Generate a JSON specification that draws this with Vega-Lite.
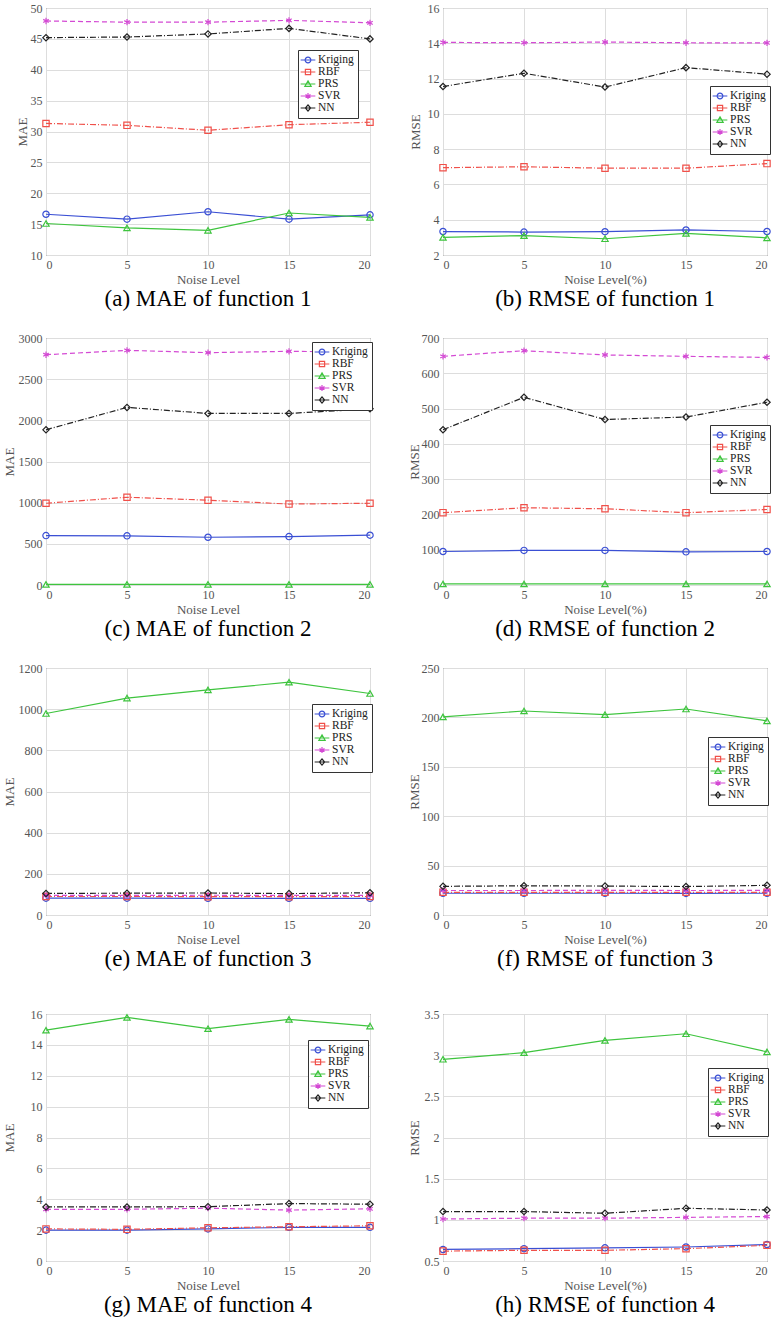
{
"$schema": "https://vega.github.io/schema/vega-lite/v6.json",
"background": "white",
"padding": {"left": 2, "top": 1, "right": 0, "bottom": 0},
"datasets": {"d": [
{"p":"a","model":"Kriging","noise":0,"v":16.6},{"p":"a","model":"Kriging","noise":5,"v":15.8},{"p":"a","model":"Kriging","noise":10,"v":17.0},{"p":"a","model":"Kriging","noise":15,"v":15.8},{"p":"a","model":"Kriging","noise":20,"v":16.5},
{"p":"a","model":"RBF","noise":0,"v":31.3},{"p":"a","model":"RBF","noise":5,"v":31.0},{"p":"a","model":"RBF","noise":10,"v":30.2},{"p":"a","model":"RBF","noise":15,"v":31.1},{"p":"a","model":"RBF","noise":20,"v":31.5},
{"p":"a","model":"PRS","noise":0,"v":15.1},{"p":"a","model":"PRS","noise":5,"v":14.4},{"p":"a","model":"PRS","noise":10,"v":14.0},{"p":"a","model":"PRS","noise":15,"v":16.8},{"p":"a","model":"PRS","noise":20,"v":16.1},
{"p":"a","model":"SVR","noise":0,"v":47.9},{"p":"a","model":"SVR","noise":5,"v":47.7},{"p":"a","model":"SVR","noise":10,"v":47.7},{"p":"a","model":"SVR","noise":15,"v":48.0},{"p":"a","model":"SVR","noise":20,"v":47.6},
{"p":"a","model":"NN","noise":0,"v":45.2},{"p":"a","model":"NN","noise":5,"v":45.3},{"p":"a","model":"NN","noise":10,"v":45.8},{"p":"a","model":"NN","noise":15,"v":46.7},{"p":"a","model":"NN","noise":20,"v":45.0},
{"p":"b","model":"Kriging","noise":0,"v":3.33},{"p":"b","model":"Kriging","noise":5,"v":3.3},{"p":"b","model":"Kriging","noise":10,"v":3.32},{"p":"b","model":"Kriging","noise":15,"v":3.42},{"p":"b","model":"Kriging","noise":20,"v":3.33},
{"p":"b","model":"RBF","noise":0,"v":6.95},{"p":"b","model":"RBF","noise":5,"v":7.0},{"p":"b","model":"RBF","noise":10,"v":6.92},{"p":"b","model":"RBF","noise":15,"v":6.92},{"p":"b","model":"RBF","noise":20,"v":7.18},
{"p":"b","model":"PRS","noise":0,"v":3.0},{"p":"b","model":"PRS","noise":5,"v":3.1},{"p":"b","model":"PRS","noise":10,"v":2.92},{"p":"b","model":"PRS","noise":15,"v":3.22},{"p":"b","model":"PRS","noise":20,"v":2.97},
{"p":"b","model":"SVR","noise":0,"v":14.05},{"p":"b","model":"SVR","noise":5,"v":14.03},{"p":"b","model":"SVR","noise":10,"v":14.07},{"p":"b","model":"SVR","noise":15,"v":14.03},{"p":"b","model":"SVR","noise":20,"v":14.02},
{"p":"b","model":"NN","noise":0,"v":11.55},{"p":"b","model":"NN","noise":5,"v":12.3},{"p":"b","model":"NN","noise":10,"v":11.52},{"p":"b","model":"NN","noise":15,"v":12.62},{"p":"b","model":"NN","noise":20,"v":12.25},
{"p":"c","model":"Kriging","noise":0,"v":600},{"p":"c","model":"Kriging","noise":5,"v":597},{"p":"c","model":"Kriging","noise":10,"v":580},{"p":"c","model":"Kriging","noise":15,"v":588},{"p":"c","model":"Kriging","noise":20,"v":605},
{"p":"c","model":"RBF","noise":0,"v":993},{"p":"c","model":"RBF","noise":5,"v":1066},{"p":"c","model":"RBF","noise":10,"v":1030},{"p":"c","model":"RBF","noise":15,"v":983},{"p":"c","model":"RBF","noise":20,"v":993},
{"p":"c","model":"PRS","noise":0,"v":8},{"p":"c","model":"PRS","noise":5,"v":8},{"p":"c","model":"PRS","noise":10,"v":8},{"p":"c","model":"PRS","noise":15,"v":8},{"p":"c","model":"PRS","noise":20,"v":8},
{"p":"c","model":"SVR","noise":0,"v":2797},{"p":"c","model":"SVR","noise":5,"v":2850},{"p":"c","model":"SVR","noise":10,"v":2822},{"p":"c","model":"SVR","noise":15,"v":2838},{"p":"c","model":"SVR","noise":20,"v":2830},
{"p":"c","model":"NN","noise":0,"v":1885},{"p":"c","model":"NN","noise":5,"v":2157},{"p":"c","model":"NN","noise":10,"v":2084},{"p":"c","model":"NN","noise":15,"v":2084},{"p":"c","model":"NN","noise":20,"v":2140},
{"p":"d","model":"Kriging","noise":0,"v":95},{"p":"d","model":"Kriging","noise":5,"v":98},{"p":"d","model":"Kriging","noise":10,"v":98},{"p":"d","model":"Kriging","noise":15,"v":94},{"p":"d","model":"Kriging","noise":20,"v":95},
{"p":"d","model":"RBF","noise":0,"v":205},{"p":"d","model":"RBF","noise":5,"v":219},{"p":"d","model":"RBF","noise":10,"v":216},{"p":"d","model":"RBF","noise":15,"v":205},{"p":"d","model":"RBF","noise":20,"v":214},
{"p":"d","model":"PRS","noise":0,"v":3},{"p":"d","model":"PRS","noise":5,"v":3},{"p":"d","model":"PRS","noise":10,"v":3},{"p":"d","model":"PRS","noise":15,"v":3},{"p":"d","model":"PRS","noise":20,"v":3},
{"p":"d","model":"SVR","noise":0,"v":648},{"p":"d","model":"SVR","noise":5,"v":664},{"p":"d","model":"SVR","noise":10,"v":652},{"p":"d","model":"SVR","noise":15,"v":648},{"p":"d","model":"SVR","noise":20,"v":645},
{"p":"d","model":"NN","noise":0,"v":440},{"p":"d","model":"NN","noise":5,"v":532},{"p":"d","model":"NN","noise":10,"v":469},{"p":"d","model":"NN","noise":15,"v":476},{"p":"d","model":"NN","noise":20,"v":518},
{"p":"e","model":"Kriging","noise":0,"v":82},{"p":"e","model":"Kriging","noise":5,"v":82},{"p":"e","model":"Kriging","noise":10,"v":81},{"p":"e","model":"Kriging","noise":15,"v":81},{"p":"e","model":"Kriging","noise":20,"v":81},
{"p":"e","model":"RBF","noise":0,"v":90},{"p":"e","model":"RBF","noise":5,"v":90},{"p":"e","model":"RBF","noise":10,"v":89},{"p":"e","model":"RBF","noise":15,"v":89},{"p":"e","model":"RBF","noise":20,"v":90},
{"p":"e","model":"PRS","noise":0,"v":979},{"p":"e","model":"PRS","noise":5,"v":1054},{"p":"e","model":"PRS","noise":10,"v":1094},{"p":"e","model":"PRS","noise":15,"v":1131},{"p":"e","model":"PRS","noise":20,"v":1076},
{"p":"e","model":"SVR","noise":0,"v":95},{"p":"e","model":"SVR","noise":5,"v":95},{"p":"e","model":"SVR","noise":10,"v":96},{"p":"e","model":"SVR","noise":15,"v":95},{"p":"e","model":"SVR","noise":20,"v":95},
{"p":"e","model":"NN","noise":0,"v":105},{"p":"e","model":"NN","noise":5,"v":106},{"p":"e","model":"NN","noise":10,"v":107},{"p":"e","model":"NN","noise":15,"v":104},{"p":"e","model":"NN","noise":20,"v":108},
{"p":"f","model":"Kriging","noise":0,"v":22},{"p":"f","model":"Kriging","noise":5,"v":22},{"p":"f","model":"Kriging","noise":10,"v":22},{"p":"f","model":"Kriging","noise":15,"v":21.8},{"p":"f","model":"Kriging","noise":20,"v":22},
{"p":"f","model":"RBF","noise":0,"v":23},{"p":"f","model":"RBF","noise":5,"v":23},{"p":"f","model":"RBF","noise":10,"v":23},{"p":"f","model":"RBF","noise":15,"v":23},{"p":"f","model":"RBF","noise":20,"v":23},
{"p":"f","model":"PRS","noise":0,"v":200.5},{"p":"f","model":"PRS","noise":5,"v":206.5},{"p":"f","model":"PRS","noise":10,"v":202.8},{"p":"f","model":"PRS","noise":15,"v":208.5},{"p":"f","model":"PRS","noise":20,"v":196.5},
{"p":"f","model":"SVR","noise":0,"v":24.8},{"p":"f","model":"SVR","noise":5,"v":24.8},{"p":"f","model":"SVR","noise":10,"v":24.9},{"p":"f","model":"SVR","noise":15,"v":24.8},{"p":"f","model":"SVR","noise":20,"v":24.9},
{"p":"f","model":"NN","noise":0,"v":29},{"p":"f","model":"NN","noise":5,"v":29.6},{"p":"f","model":"NN","noise":10,"v":29.3},{"p":"f","model":"NN","noise":15,"v":28.8},{"p":"f","model":"NN","noise":20,"v":30},
{"p":"g","model":"Kriging","noise":0,"v":2.0},{"p":"g","model":"Kriging","noise":5,"v":2.0},{"p":"g","model":"Kriging","noise":10,"v":2.08},{"p":"g","model":"Kriging","noise":15,"v":2.18},{"p":"g","model":"Kriging","noise":20,"v":2.18},
{"p":"g","model":"RBF","noise":0,"v":2.08},{"p":"g","model":"RBF","noise":5,"v":2.05},{"p":"g","model":"RBF","noise":10,"v":2.15},{"p":"g","model":"RBF","noise":15,"v":2.22},{"p":"g","model":"RBF","noise":20,"v":2.28},
{"p":"g","model":"PRS","noise":0,"v":14.95},{"p":"g","model":"PRS","noise":5,"v":15.78},{"p":"g","model":"PRS","noise":10,"v":15.05},{"p":"g","model":"PRS","noise":15,"v":15.65},{"p":"g","model":"PRS","noise":20,"v":15.22},
{"p":"g","model":"SVR","noise":0,"v":3.35},{"p":"g","model":"SVR","noise":5,"v":3.35},{"p":"g","model":"SVR","noise":10,"v":3.42},{"p":"g","model":"SVR","noise":15,"v":3.3},{"p":"g","model":"SVR","noise":20,"v":3.38},
{"p":"g","model":"NN","noise":0,"v":3.5},{"p":"g","model":"NN","noise":5,"v":3.5},{"p":"g","model":"NN","noise":10,"v":3.52},{"p":"g","model":"NN","noise":15,"v":3.72},{"p":"g","model":"NN","noise":20,"v":3.68},
{"p":"h","model":"Kriging","noise":0,"v":0.64},{"p":"h","model":"Kriging","noise":5,"v":0.65},{"p":"h","model":"Kriging","noise":10,"v":0.66},{"p":"h","model":"Kriging","noise":15,"v":0.67},{"p":"h","model":"Kriging","noise":20,"v":0.70},
{"p":"h","model":"RBF","noise":0,"v":0.62},{"p":"h","model":"RBF","noise":5,"v":0.63},{"p":"h","model":"RBF","noise":10,"v":0.63},{"p":"h","model":"RBF","noise":15,"v":0.65},{"p":"h","model":"RBF","noise":20,"v":0.69},
{"p":"h","model":"PRS","noise":0,"v":2.95},{"p":"h","model":"PRS","noise":5,"v":3.03},{"p":"h","model":"PRS","noise":10,"v":3.18},{"p":"h","model":"PRS","noise":15,"v":3.26},{"p":"h","model":"PRS","noise":20,"v":3.04},
{"p":"h","model":"SVR","noise":0,"v":1.01},{"p":"h","model":"SVR","noise":5,"v":1.02},{"p":"h","model":"SVR","noise":10,"v":1.02},{"p":"h","model":"SVR","noise":15,"v":1.03},{"p":"h","model":"SVR","noise":20,"v":1.04},
{"p":"h","model":"NN","noise":0,"v":1.10},{"p":"h","model":"NN","noise":5,"v":1.10},{"p":"h","model":"NN","noise":10,"v":1.08},{"p":"h","model":"NN","noise":15,"v":1.14},{"p":"h","model":"NN","noise":20,"v":1.12}
]},
"data": {"name": "d"},
"vconcat": [
{
"concat": [
{"width": 324, "height": 247, "title": "(a) MAE of function 1",
 "transform": [{"filter": "datum.p === 'a'"}],
 "encoding": {
  "x": {"field": "noise", "type": "quantitative", "scale": {"domain": [0, 20], "nice": false}, "axis": {"values": [0,5,10,15,20], "title": "Noise Level"}},
  "y": {"field": "v", "type": "quantitative", "scale": {"domain": [10, 50], "nice": false, "zero": false}, "axis": {"values": [10,15,20,25,30,35,40,45,50], "format": "d", "title": "MAE", "minExtent": 15, "maxExtent": 15}},
  "color": {"field": "model", "type": "nominal", "scale": {"domain": ["Kriging","RBF","PRS","SVR","NN"], "range": ["#3a4fd4","#f0504a","#3ec43e","#d44ad4","#222222"]}, "legend": {"title": null, "orient": "none", "legendX": 252, "legendY": 42}}
 },
 "layer": [
  {"mark": {"type": "point", "size": 0}, "encoding": {"shape": {"field": "model", "type": "nominal", "scale": {"domain": ["Kriging","RBF","PRS","SVR","NN"], "range": ["M-1.4,0H1.4M0.55,0A0.55,0.55 0 1,1 -0.55,0A0.55,0.55 0 1,1 0.55,0","M-1.4,0H1.4M-0.5,-0.5H0.5V0.5H-0.5Z","M-1.4,0H1.4M0,-0.6L0.6,0.45H-0.6Z","M-1.4,0H1.4M0,-0.55V0.55M-0.48,-0.28L0.48,0.28M-0.48,0.28L0.48,-0.28","M-1.4,0H1.4M0,-0.6L0.5,0L0,0.6L-0.5,0Z"]}, "legend": {"title": null, "orient": "none", "legendX": 252, "legendY": 42}}}},
  {"transform": [{"filter": "datum.model==='Kriging'||datum.model==='PRS'"}], "mark": {"type": "line"}},
  {"transform": [{"filter": "datum.model==='RBF'||datum.model==='NN'"}], "mark": {"type": "line", "strokeDash": [6,2,1,2]}},
  {"transform": [{"filter": "datum.model==='SVR'"}], "mark": {"type": "line", "strokeDash": [5,3]}},
  {"transform": [{"filter": "datum.model==='Kriging'"}], "mark": {"type": "point", "shape": "circle"}},
  {"transform": [{"filter": "datum.model==='RBF'"}], "mark": {"type": "point", "shape": "square"}},
  {"transform": [{"filter": "datum.model==='PRS'"}], "mark": {"type": "point", "shape": "triangle-up"}},
  {"transform": [{"filter": "datum.model==='SVR'"}], "mark": {"type": "point", "shape": "M0,-1V1M-0.87,-0.5L0.87,0.5M-0.87,0.5L0.87,-0.5"}},
  {"transform": [{"filter": "datum.model==='NN'"}], "mark": {"type": "point", "shape": "diamond"}}
 ]
},
{"width": 324, "height": 247, "title": "(b) RMSE of function 1",
 "transform": [{"filter": "datum.p === 'b'"}],
 "encoding": {
  "x": {"field": "noise", "type": "quantitative", "scale": {"domain": [0, 20], "nice": false}, "axis": {"values": [0,5,10,15,20], "title": "Noise Level(%)"}},
  "y": {"field": "v", "type": "quantitative", "scale": {"domain": [2, 16], "nice": false, "zero": false}, "axis": {"values": [2,4,6,8,10,12,14,16], "format": "d", "title": "RMSE", "minExtent": 19, "maxExtent": 19}},
  "color": {"field": "model", "type": "nominal", "scale": {"domain": ["Kriging","RBF","PRS","SVR","NN"], "range": ["#3a4fd4","#f0504a","#3ec43e","#d44ad4","#222222"]}, "legend": {"title": null, "orient": "none", "legendX": 267, "legendY": 78}}
 },
 "layer": [
  {"mark": {"type": "point", "size": 0}, "encoding": {"shape": {"field": "model", "type": "nominal", "scale": {"domain": ["Kriging","RBF","PRS","SVR","NN"], "range": ["M-1.4,0H1.4M0.55,0A0.55,0.55 0 1,1 -0.55,0A0.55,0.55 0 1,1 0.55,0","M-1.4,0H1.4M-0.5,-0.5H0.5V0.5H-0.5Z","M-1.4,0H1.4M0,-0.6L0.6,0.45H-0.6Z","M-1.4,0H1.4M0,-0.55V0.55M-0.48,-0.28L0.48,0.28M-0.48,0.28L0.48,-0.28","M-1.4,0H1.4M0,-0.6L0.5,0L0,0.6L-0.5,0Z"]}, "legend": {"title": null, "orient": "none", "legendX": 267, "legendY": 78}}}},
  {"transform": [{"filter": "datum.model==='Kriging'||datum.model==='PRS'"}], "mark": {"type": "line"}},
  {"transform": [{"filter": "datum.model==='RBF'||datum.model==='NN'"}], "mark": {"type": "line", "strokeDash": [6,2,1,2]}},
  {"transform": [{"filter": "datum.model==='SVR'"}], "mark": {"type": "line", "strokeDash": [5,3]}},
  {"transform": [{"filter": "datum.model==='Kriging'"}], "mark": {"type": "point", "shape": "circle"}},
  {"transform": [{"filter": "datum.model==='RBF'"}], "mark": {"type": "point", "shape": "square"}},
  {"transform": [{"filter": "datum.model==='PRS'"}], "mark": {"type": "point", "shape": "triangle-up"}},
  {"transform": [{"filter": "datum.model==='SVR'"}], "mark": {"type": "point", "shape": "M0,-1V1M-0.87,-0.5L0.87,0.5M-0.87,0.5L0.87,-0.5"}},
  {"transform": [{"filter": "datum.model==='NN'"}], "mark": {"type": "point", "shape": "diamond"}}
 ]
},
{"width": 324, "height": 247, "title": "(c) MAE of function 2",
 "transform": [{"filter": "datum.p === 'c'"}],
 "encoding": {
  "x": {"field": "noise", "type": "quantitative", "scale": {"domain": [0, 20], "nice": false}, "axis": {"values": [0,5,10,15,20], "title": "Noise Level"}},
  "y": {"field": "v", "type": "quantitative", "scale": {"domain": [0, 3000], "nice": false}, "axis": {"values": [0,500,1000,1500,2000,2500,3000], "format": "d", "title": "MAE", "minExtent": 28, "maxExtent": 28}},
  "color": {"field": "model", "type": "nominal", "scale": {"domain": ["Kriging","RBF","PRS","SVR","NN"], "range": ["#3a4fd4","#f0504a","#3ec43e","#d44ad4","#222222"]}, "legend": {"title": null, "orient": "none", "legendX": 266, "legendY": 4}}
 },
 "layer": [
  {"mark": {"type": "point", "size": 0}, "encoding": {"shape": {"field": "model", "type": "nominal", "scale": {"domain": ["Kriging","RBF","PRS","SVR","NN"], "range": ["M-1.4,0H1.4M0.55,0A0.55,0.55 0 1,1 -0.55,0A0.55,0.55 0 1,1 0.55,0","M-1.4,0H1.4M-0.5,-0.5H0.5V0.5H-0.5Z","M-1.4,0H1.4M0,-0.6L0.6,0.45H-0.6Z","M-1.4,0H1.4M0,-0.55V0.55M-0.48,-0.28L0.48,0.28M-0.48,0.28L0.48,-0.28","M-1.4,0H1.4M0,-0.6L0.5,0L0,0.6L-0.5,0Z"]}, "legend": {"title": null, "orient": "none", "legendX": 266, "legendY": 4}}}},
  {"transform": [{"filter": "datum.model==='Kriging'||datum.model==='PRS'"}], "mark": {"type": "line"}},
  {"transform": [{"filter": "datum.model==='RBF'||datum.model==='NN'"}], "mark": {"type": "line", "strokeDash": [6,2,1,2]}},
  {"transform": [{"filter": "datum.model==='SVR'"}], "mark": {"type": "line", "strokeDash": [5,3]}},
  {"transform": [{"filter": "datum.model==='Kriging'"}], "mark": {"type": "point", "shape": "circle"}},
  {"transform": [{"filter": "datum.model==='RBF'"}], "mark": {"type": "point", "shape": "square"}},
  {"transform": [{"filter": "datum.model==='PRS'"}], "mark": {"type": "point", "shape": "triangle-up"}},
  {"transform": [{"filter": "datum.model==='SVR'"}], "mark": {"type": "point", "shape": "M0,-1V1M-0.87,-0.5L0.87,0.5M-0.87,0.5L0.87,-0.5"}},
  {"transform": [{"filter": "datum.model==='NN'"}], "mark": {"type": "point", "shape": "diamond"}}
 ]
},
{"width": 324, "height": 247, "title": "(d) RMSE of function 2",
 "transform": [{"filter": "datum.p === 'd'"}],
 "encoding": {
  "x": {"field": "noise", "type": "quantitative", "scale": {"domain": [0, 20], "nice": false}, "axis": {"values": [0,5,10,15,20], "title": "Noise Level(%)"}},
  "y": {"field": "v", "type": "quantitative", "scale": {"domain": [0, 700], "nice": false}, "axis": {"values": [0,100,200,300,400,500,600,700], "format": "d", "title": "RMSE", "minExtent": 20, "maxExtent": 20}},
  "color": {"field": "model", "type": "nominal", "scale": {"domain": ["Kriging","RBF","PRS","SVR","NN"], "range": ["#3a4fd4","#f0504a","#3ec43e","#d44ad4","#222222"]}, "legend": {"title": null, "orient": "none", "legendX": 267, "legendY": 87}}
 },
 "layer": [
  {"mark": {"type": "point", "size": 0}, "encoding": {"shape": {"field": "model", "type": "nominal", "scale": {"domain": ["Kriging","RBF","PRS","SVR","NN"], "range": ["M-1.4,0H1.4M0.55,0A0.55,0.55 0 1,1 -0.55,0A0.55,0.55 0 1,1 0.55,0","M-1.4,0H1.4M-0.5,-0.5H0.5V0.5H-0.5Z","M-1.4,0H1.4M0,-0.6L0.6,0.45H-0.6Z","M-1.4,0H1.4M0,-0.55V0.55M-0.48,-0.28L0.48,0.28M-0.48,0.28L0.48,-0.28","M-1.4,0H1.4M0,-0.6L0.5,0L0,0.6L-0.5,0Z"]}, "legend": {"title": null, "orient": "none", "legendX": 267, "legendY": 87}}}},
  {"transform": [{"filter": "datum.model==='Kriging'||datum.model==='PRS'"}], "mark": {"type": "line"}},
  {"transform": [{"filter": "datum.model==='RBF'||datum.model==='NN'"}], "mark": {"type": "line", "strokeDash": [6,2,1,2]}},
  {"transform": [{"filter": "datum.model==='SVR'"}], "mark": {"type": "line", "strokeDash": [5,3]}},
  {"transform": [{"filter": "datum.model==='Kriging'"}], "mark": {"type": "point", "shape": "circle"}},
  {"transform": [{"filter": "datum.model==='RBF'"}], "mark": {"type": "point", "shape": "square"}},
  {"transform": [{"filter": "datum.model==='PRS'"}], "mark": {"type": "point", "shape": "triangle-up"}},
  {"transform": [{"filter": "datum.model==='SVR'"}], "mark": {"type": "point", "shape": "M0,-1V1M-0.87,-0.5L0.87,0.5M-0.87,0.5L0.87,-0.5"}},
  {"transform": [{"filter": "datum.model==='NN'"}], "mark": {"type": "point", "shape": "diamond"}}
 ]
},
{"width": 324, "height": 247, "title": "(e) MAE of function 3",
 "transform": [{"filter": "datum.p === 'e'"}],
 "encoding": {
  "x": {"field": "noise", "type": "quantitative", "scale": {"domain": [0, 20], "nice": false}, "axis": {"values": [0,5,10,15,20], "title": "Noise Level"}},
  "y": {"field": "v", "type": "quantitative", "scale": {"domain": [0, 1200], "nice": false}, "axis": {"values": [0,200,400,600,800,1000,1200], "format": "d", "title": "MAE", "minExtent": 28, "maxExtent": 28}},
  "color": {"field": "model", "type": "nominal", "scale": {"domain": ["Kriging","RBF","PRS","SVR","NN"], "range": ["#3a4fd4","#f0504a","#3ec43e","#d44ad4","#222222"]}, "legend": {"title": null, "orient": "none", "legendX": 266, "legendY": 36}}
 },
 "layer": [
  {"mark": {"type": "point", "size": 0}, "encoding": {"shape": {"field": "model", "type": "nominal", "scale": {"domain": ["Kriging","RBF","PRS","SVR","NN"], "range": ["M-1.4,0H1.4M0.55,0A0.55,0.55 0 1,1 -0.55,0A0.55,0.55 0 1,1 0.55,0","M-1.4,0H1.4M-0.5,-0.5H0.5V0.5H-0.5Z","M-1.4,0H1.4M0,-0.6L0.6,0.45H-0.6Z","M-1.4,0H1.4M0,-0.55V0.55M-0.48,-0.28L0.48,0.28M-0.48,0.28L0.48,-0.28","M-1.4,0H1.4M0,-0.6L0.5,0L0,0.6L-0.5,0Z"]}, "legend": {"title": null, "orient": "none", "legendX": 266, "legendY": 36}}}},
  {"transform": [{"filter": "datum.model==='Kriging'||datum.model==='PRS'"}], "mark": {"type": "line"}},
  {"transform": [{"filter": "datum.model==='RBF'||datum.model==='NN'"}], "mark": {"type": "line", "strokeDash": [6,2,1,2]}},
  {"transform": [{"filter": "datum.model==='SVR'"}], "mark": {"type": "line", "strokeDash": [5,3]}},
  {"transform": [{"filter": "datum.model==='Kriging'"}], "mark": {"type": "point", "shape": "circle"}},
  {"transform": [{"filter": "datum.model==='RBF'"}], "mark": {"type": "point", "shape": "square"}},
  {"transform": [{"filter": "datum.model==='PRS'"}], "mark": {"type": "point", "shape": "triangle-up"}},
  {"transform": [{"filter": "datum.model==='SVR'"}], "mark": {"type": "point", "shape": "M0,-1V1M-0.87,-0.5L0.87,0.5M-0.87,0.5L0.87,-0.5"}},
  {"transform": [{"filter": "datum.model==='NN'"}], "mark": {"type": "point", "shape": "diamond"}}
 ]
},
{"width": 324, "height": 247, "title": "(f) RMSE of function 3",
 "transform": [{"filter": "datum.p === 'f'"}],
 "encoding": {
  "x": {"field": "noise", "type": "quantitative", "scale": {"domain": [0, 20], "nice": false}, "axis": {"values": [0,5,10,15,20], "title": "Noise Level(%)"}},
  "y": {"field": "v", "type": "quantitative", "scale": {"domain": [0, 250], "nice": false}, "axis": {"values": [0,50,100,150,200,250], "format": "d", "title": "RMSE", "minExtent": 20, "maxExtent": 20}},
  "color": {"field": "model", "type": "nominal", "scale": {"domain": ["Kriging","RBF","PRS","SVR","NN"], "range": ["#3a4fd4","#f0504a","#3ec43e","#d44ad4","#222222"]}, "legend": {"title": null, "orient": "none", "legendX": 265, "legendY": 69}}
 },
 "layer": [
  {"mark": {"type": "point", "size": 0}, "encoding": {"shape": {"field": "model", "type": "nominal", "scale": {"domain": ["Kriging","RBF","PRS","SVR","NN"], "range": ["M-1.4,0H1.4M0.55,0A0.55,0.55 0 1,1 -0.55,0A0.55,0.55 0 1,1 0.55,0","M-1.4,0H1.4M-0.5,-0.5H0.5V0.5H-0.5Z","M-1.4,0H1.4M0,-0.6L0.6,0.45H-0.6Z","M-1.4,0H1.4M0,-0.55V0.55M-0.48,-0.28L0.48,0.28M-0.48,0.28L0.48,-0.28","M-1.4,0H1.4M0,-0.6L0.5,0L0,0.6L-0.5,0Z"]}, "legend": {"title": null, "orient": "none", "legendX": 265, "legendY": 69}}}},
  {"transform": [{"filter": "datum.model==='Kriging'||datum.model==='PRS'"}], "mark": {"type": "line"}},
  {"transform": [{"filter": "datum.model==='RBF'||datum.model==='NN'"}], "mark": {"type": "line", "strokeDash": [6,2,1,2]}},
  {"transform": [{"filter": "datum.model==='SVR'"}], "mark": {"type": "line", "strokeDash": [5,3]}},
  {"transform": [{"filter": "datum.model==='Kriging'"}], "mark": {"type": "point", "shape": "circle"}},
  {"transform": [{"filter": "datum.model==='RBF'"}], "mark": {"type": "point", "shape": "square"}},
  {"transform": [{"filter": "datum.model==='PRS'"}], "mark": {"type": "point", "shape": "triangle-up"}},
  {"transform": [{"filter": "datum.model==='SVR'"}], "mark": {"type": "point", "shape": "M0,-1V1M-0.87,-0.5L0.87,0.5M-0.87,0.5L0.87,-0.5"}},
  {"transform": [{"filter": "datum.model==='NN'"}], "mark": {"type": "point", "shape": "diamond"}}
 ]
}
],
"columns": 2,
"spacing": {"row": 83, "column": 73},
"bounds": "flush",
"resolve": {"scale": {"x": "independent", "y": "independent", "color": "independent", "shape": "independent"}, "legend": {"color": "independent", "shape": "independent"}}
},
{
"hconcat": [
{"width": 324, "height": 247, "title": "(g) MAE of function 4",
 "transform": [{"filter": "datum.p === 'g'"}],
 "encoding": {
  "x": {"field": "noise", "type": "quantitative", "scale": {"domain": [0, 20], "nice": false}, "axis": {"values": [0,5,10,15,20], "title": "Noise Level"}},
  "y": {"field": "v", "type": "quantitative", "scale": {"domain": [0, 16], "nice": false}, "axis": {"values": [0,2,4,6,8,10,12,14,16], "format": "d", "title": "MAE", "minExtent": 28, "maxExtent": 28}},
  "color": {"field": "model", "type": "nominal", "scale": {"domain": ["Kriging","RBF","PRS","SVR","NN"], "range": ["#3a4fd4","#f0504a","#3ec43e","#d44ad4","#222222"]}, "legend": {"title": null, "orient": "none", "legendX": 262, "legendY": 26}}
 },
 "layer": [
  {"mark": {"type": "point", "size": 0}, "encoding": {"shape": {"field": "model", "type": "nominal", "scale": {"domain": ["Kriging","RBF","PRS","SVR","NN"], "range": ["M-1.4,0H1.4M0.55,0A0.55,0.55 0 1,1 -0.55,0A0.55,0.55 0 1,1 0.55,0","M-1.4,0H1.4M-0.5,-0.5H0.5V0.5H-0.5Z","M-1.4,0H1.4M0,-0.6L0.6,0.45H-0.6Z","M-1.4,0H1.4M0,-0.55V0.55M-0.48,-0.28L0.48,0.28M-0.48,0.28L0.48,-0.28","M-1.4,0H1.4M0,-0.6L0.5,0L0,0.6L-0.5,0Z"]}, "legend": {"title": null, "orient": "none", "legendX": 262, "legendY": 26}}}},
  {"transform": [{"filter": "datum.model==='Kriging'||datum.model==='PRS'"}], "mark": {"type": "line"}},
  {"transform": [{"filter": "datum.model==='RBF'||datum.model==='NN'"}], "mark": {"type": "line", "strokeDash": [6,2,1,2]}},
  {"transform": [{"filter": "datum.model==='SVR'"}], "mark": {"type": "line", "strokeDash": [5,3]}},
  {"transform": [{"filter": "datum.model==='Kriging'"}], "mark": {"type": "point", "shape": "circle"}},
  {"transform": [{"filter": "datum.model==='RBF'"}], "mark": {"type": "point", "shape": "square"}},
  {"transform": [{"filter": "datum.model==='PRS'"}], "mark": {"type": "point", "shape": "triangle-up"}},
  {"transform": [{"filter": "datum.model==='SVR'"}], "mark": {"type": "point", "shape": "M0,-1V1M-0.87,-0.5L0.87,0.5M-0.87,0.5L0.87,-0.5"}},
  {"transform": [{"filter": "datum.model==='NN'"}], "mark": {"type": "point", "shape": "diamond"}}
 ]
},
{"width": 324, "height": 247, "title": "(h) RMSE of function 4",
 "transform": [{"filter": "datum.p === 'h'"}],
 "encoding": {
  "x": {"field": "noise", "type": "quantitative", "scale": {"domain": [0, 20], "nice": false}, "axis": {"values": [0,5,10,15,20], "title": "Noise Level(%)"}},
  "y": {"field": "v", "type": "quantitative", "scale": {"domain": [0.5, 3.5], "nice": false, "zero": false}, "axis": {"values": [0.5,1,1.5,2,2.5,3,3.5], "format": "~g", "title": "RMSE", "minExtent": 20, "maxExtent": 20}},
  "color": {"field": "model", "type": "nominal", "scale": {"domain": ["Kriging","RBF","PRS","SVR","NN"], "range": ["#3a4fd4","#f0504a","#3ec43e","#d44ad4","#222222"]}, "legend": {"title": null, "orient": "none", "legendX": 265, "legendY": 54}}
 },
 "layer": [
  {"mark": {"type": "point", "size": 0}, "encoding": {"shape": {"field": "model", "type": "nominal", "scale": {"domain": ["Kriging","RBF","PRS","SVR","NN"], "range": ["M-1.4,0H1.4M0.55,0A0.55,0.55 0 1,1 -0.55,0A0.55,0.55 0 1,1 0.55,0","M-1.4,0H1.4M-0.5,-0.5H0.5V0.5H-0.5Z","M-1.4,0H1.4M0,-0.6L0.6,0.45H-0.6Z","M-1.4,0H1.4M0,-0.55V0.55M-0.48,-0.28L0.48,0.28M-0.48,0.28L0.48,-0.28","M-1.4,0H1.4M0,-0.6L0.5,0L0,0.6L-0.5,0Z"]}, "legend": {"title": null, "orient": "none", "legendX": 265, "legendY": 54}}}},
  {"transform": [{"filter": "datum.model==='Kriging'||datum.model==='PRS'"}], "mark": {"type": "line"}},
  {"transform": [{"filter": "datum.model==='RBF'||datum.model==='NN'"}], "mark": {"type": "line", "strokeDash": [6,2,1,2]}},
  {"transform": [{"filter": "datum.model==='SVR'"}], "mark": {"type": "line", "strokeDash": [5,3]}},
  {"transform": [{"filter": "datum.model==='Kriging'"}], "mark": {"type": "point", "shape": "circle"}},
  {"transform": [{"filter": "datum.model==='RBF'"}], "mark": {"type": "point", "shape": "square"}},
  {"transform": [{"filter": "datum.model==='PRS'"}], "mark": {"type": "point", "shape": "triangle-up"}},
  {"transform": [{"filter": "datum.model==='SVR'"}], "mark": {"type": "point", "shape": "M0,-1V1M-0.87,-0.5L0.87,0.5M-0.87,0.5L0.87,-0.5"}},
  {"transform": [{"filter": "datum.model==='NN'"}], "mark": {"type": "point", "shape": "diamond"}}
 ]
}
],
"spacing": 73,
"bounds": "flush",
"resolve": {"scale": {"x": "independent", "y": "independent", "color": "independent", "shape": "independent"}, "legend": {"color": "independent", "shape": "independent"}}
}
],
"spacing": 35,
"bounds": "full",
"resolve": {"scale": {"x": "independent", "y": "independent", "color": "independent", "shape": "independent"}, "legend": {"color": "independent", "shape": "independent"}},
"config": {
 "view": {"stroke": "#444", "strokeWidth": 1},
 "line": {"strokeWidth": 1.2},
 "point": {"filled": false, "size": 40, "strokeWidth": 1.2, "opacity": 1},
 "axis": {"labelFont": "Liberation Serif", "labelFontSize": 12, "labelColor": "#555", "titleFont": "Liberation Serif", "titleFontSize": 13, "titleFontWeight": "normal", "titleColor": "#555", "gridColor": "#dddddd", "gridOpacity": 1, "gridWidth": 1, "domain": false, "ticks": false, "tickSize": 0, "labelPadding": 4, "titlePadding": 3},
 "axisY": {"titlePadding": 2},
 "legend": {"labelFont": "Liberation Serif", "labelFontSize": 11.5, "labelColor": "#222", "strokeColor": "#333", "fillColor": "white", "padding": 4, "rowPadding": 0, "symbolSize": 110, "labelOffset": 4, "cornerRadius": 0, "symbolStrokeWidth": 1.1},
 "title": {"font": "Liberation Serif", "fontSize": 23, "fontWeight": "normal", "color": "#000", "orient": "bottom", "offset": 2, "anchor": "middle"}
}
}
